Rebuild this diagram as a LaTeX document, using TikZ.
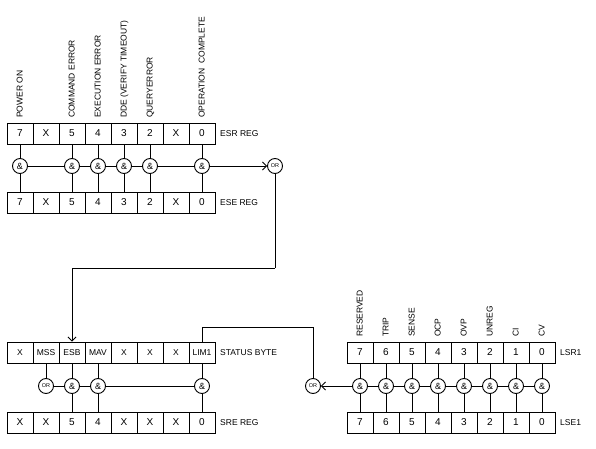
\documentclass[tikz,border=0pt]{standalone}
\usepackage{fontspec}
\setmainfont{Liberation Sans}
\usetikzlibrary{arrows.meta}
\begin{document}
\begin{tikzpicture}[x=1pt,y=-1pt,
  cell/.style={draw, line width=0.9pt, minimum width=26pt, minimum height=21pt, inner sep=0pt, font=\fontsize{10}{12}\selectfont},
  cellw/.style={cell, font=\fontsize{8}{10}\selectfont},
  gate/.style={draw, circle, line width=0.9pt, minimum size=15pt, inner sep=0pt, font=\fontsize{9}{10}\selectfont, fill=white},
  orgate/.style={gate, font=\fontsize{5.5}{6}\selectfont},
  lab/.style={rotate=90, anchor=mid west, inner sep=0pt, font=\fontsize{8.5}{10}\selectfont},
  reglab/.style={anchor=west, inner sep=0pt, font=\fontsize{8.5}{10}\selectfont},
  wire/.style={line width=0.9pt},
  arr/.style={wire, -{Straight Barb[length=4pt,width=8pt]}}
]
\useasboundingbox (0,0) rectangle (596,449);
% ---------- ESR / ESE ----------
\foreach \t [count=\i from 0] in {7,X,5,4,3,2,X,0} {
  \node[cell] (esr\i) at (20+26*\i,133.5) {\t};
  \node[cell] (ese\i) at (20+26*\i,202.5) {\t};
}
\node[reglab] (esrl) at (220,133.5) {ESR REG};
\node[reglab] (esel) at (220,202.5) {ESE REG};
\node[lab] (t0) at (20,118) {POWER ON};
\node[lab] (t2) at (72,118) {COMMAND ERROR};
\node[lab] (t3) at (98,118) {EXECUTION ERROR};
\node[lab] (t4) at (124,118) {DDE (VERIFY TIMEOUT)};
\node[lab] (t5) at (150,118) {QUERYERROR};
\node[lab] (t7) at (202,118) {OPERATION\ \ COMPLETE};
\foreach \i in {0,2,3,4,5,7} {
  \node[gate] (ga\i) at (20+26*\i,166) {\&};
  \draw[wire] (esr\i) -- (ga\i) -- (ese\i);
}
\draw[wire] (ga0) -- (ga2) -- (ga3) -- (ga4) -- (ga5) -- (ga7);
\node[orgate] (or1) at (275,166) {OR};
\draw[arr] (ga7) -- (or1);
% ---------- STATUS / SRE ----------
\foreach \t [count=\i from 0] in {X,MSS,ESB,MAV,X,X,X,LIM1} {
  \node[cell, font=\fontsize{8.5}{10}\selectfont] (st\i) at (20+26*\i,352.5) {\t};
}
\foreach \t [count=\i from 0] in {X,X,5,4,X,X,X,0} {
  \node[cell] (sre\i) at (20+26*\i,422.5) {\t};
}
\node[reglab] (stl) at (220,352.5) {STATUS BYTE};
\node[reglab] (srel) at (220,422.5) {SRE REG};
\coordinate (k1) at (275,268);
\draw[wire] (or1) -- (k1);
\draw[arr] (k1) -| (st2.north);
\node[orgate] (or2) at (46,386) {OR};
\draw[wire] (st1) -- (or2);
\foreach \i in {2,3,7} {
  \node[gate] (gs\i) at (20+26*\i,386) {\&};
  \draw[wire] (st\i) -- (gs\i) -- (sre\i);
}
\draw[wire] (or2) -- (gs2) -- (gs3) -- (gs7);
% ---------- LSR1 / LSE1 ----------
\foreach \t [count=\i from 0] in {7,6,5,4,3,2,1,0} {
  \node[cell] (lsr\i) at (360+26*\i,352.5) {\t};
  \node[cell] (lse\i) at (360+26*\i,422.5) {\t};
  \node[gate] (gl\i) at (360+26*\i,386) {\&};
  \draw[wire] (lsr\i) -- (gl\i) -- (lse\i);
}
\draw[wire] (gl0) -- (gl1) -- (gl2) -- (gl3) -- (gl4) -- (gl5) -- (gl6) -- (gl7);
\node[reglab] (lsrl) at (560,352.5) {LSR1};
\node[reglab] (lsel) at (560,422.5) {LSE1};
\foreach \t [count=\i from 0] in {RESERVED,TRIP,SENSE,OCP,OVP,UNREG,CI,CV} {
  \node[lab] (r\i) at (360+26*\i,337) {\t};
}
\node[orgate] (or3) at (313,386) {OR};
\draw[arr] (gl0) -- (or3);
\coordinate (k2) at (313,327);
\draw[wire] (or3) -- (k2) -| (st7.north);
\end{tikzpicture}
\end{document}
